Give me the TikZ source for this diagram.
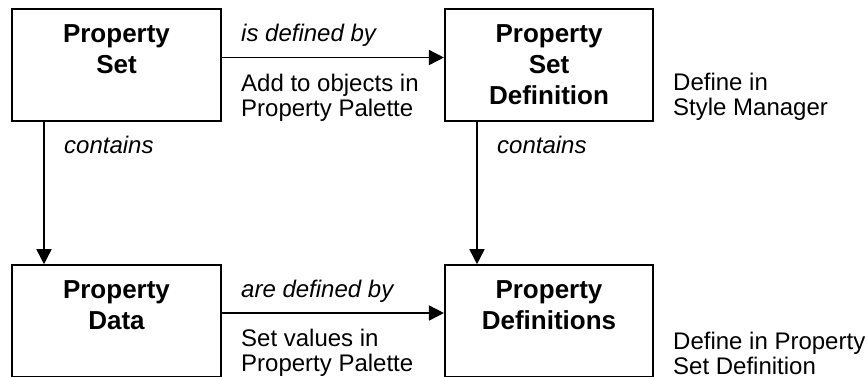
\documentclass[tikz,border=0pt]{standalone}
\usepackage{fontspec}
\setmainfont{Liberation Sans}
\usetikzlibrary{arrows.meta}
\begin{document}
\begin{tikzpicture}[x=1pt,y=-1pt,
  box/.style={draw, line width=1.6pt, minimum width=208.5pt, minimum height=112pt, inner sep=0pt},
  boxtext/.style={font=\bfseries\fontsize{26}{30.7}\selectfont, align=center, inner sep=0pt, anchor=north, yshift=-13pt},
  lbl/.style={font=\fontsize{24}{25.5}\selectfont, align=left, inner sep=0pt},
  elbl/.style={lbl, font=\itshape\fontsize{24}{25.5}\selectfont},
  conn/.style={line width=1.6pt, -{Triangle[length=15pt,width=15pt]}}]
\useasboundingbox (0,0) rectangle (868,376);
% boxes
\node[box] (ps) at (116.5,65) {};
\node[box] (psd) at (549,65) {};
\node[box] (pd) at (116.5,321) {};
\node[box] (pdef) at (549,321) {};
% box texts
\node[boxtext] (pst) at (ps.north) {\strut Property\\Set};
\node[boxtext] (psdt) at (psd.north) {\strut Property\\Set\\Definition};
\node[boxtext] (pdt) at (pd.north) {\strut Property\\Data};
\node[boxtext] (pdeft) at (pdef.north) {\strut Property\\Definitions};
% connectors
\draw[conn] ([yshift=7.5pt]ps.east) -- ([yshift=7.5pt]psd.west);
\draw[conn] ([yshift=8pt]pd.east) -- ([yshift=8pt]pdef.west);
\draw[conn] ([xshift=-72.5pt]ps.south) -- ([xshift=-72.5pt]pd.north);
\draw[conn] ([xshift=-72pt]psd.south) -- ([xshift=-72pt]pdef.north);
% connector labels
\node[elbl, anchor=base west] (l1) at (241,41) {is defined by};
\node[lbl, anchor=north west] (l2) at (241,73.15) {\strut Add to objects in\\Property Palette};
\node[elbl, anchor=base west] (l3) at (241,297) {are defined by};
\node[lbl, anchor=north west] (l4) at (241,328.15) {\strut Set values in\\Property Palette};
\node[elbl, anchor=base west] (l5) at (64,153) {contains};
\node[elbl, anchor=base west] (l6) at (497,153) {contains};
% side notes
\node[lbl, anchor=north west] (n1) at (673,72.15) {\strut Define in\\Style Manager};
\node[lbl, anchor=north west] (n2) at (673,331.15) {\strut Define in Property\\Set Definition};
\end{tikzpicture}
\end{document}
